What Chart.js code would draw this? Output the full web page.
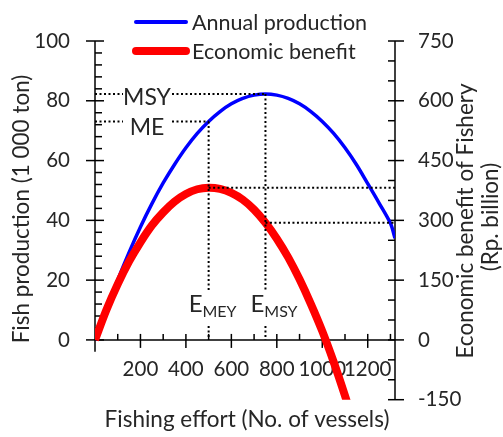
<!DOCTYPE html>
<html>
<head>
<meta charset="utf-8">
<script src="https://cdn.jsdelivr.net/npm/chart.js@4"></script>
<style>
  html, body { margin: 0; padding: 0; background: #fff; }
  #wrap { width: 503px; height: 437px; }
</style>
</head>
<body>
<div id="wrap"><canvas id="chart" width="503" height="437"></canvas></div>
<script>
// Fishing effort (No. of vessels)
const effort = [0, 50, 100, 150, 200, 250, 300, 350, 400, 450, 500, 550, 600, 650,
  700, 750, 800, 850, 900, 950, 1000, 1050, 1100, 1150, 1200, 1250, 1300, 1320];
// Annual production (1000 ton), left axis
const production = [0, 10.2, 20.1, 29.3, 37.8, 45.5, 52.5, 58.7, 64.3, 69.1, 73.1, 76.4, 79.0, 80.8,
  81.9, 82.3, 81.9, 80.8, 79.0, 76.4, 73.1, 69.1, 64.3, 58.7, 52.3, 45.8, 39.0, 34.0];
// Economic benefit (Rp. billion), right axis
const benefit = [0, 75, 140, 197, 245, 287, 320, 347, 366, 378, 382, 379, 369, 352,
  327, 294, 254, 207, 152, 90, 22, -55, -140, -230, null, null, null, null];

// reference points: [MEY, MSY]
const refEffort = [500, 750];
const refProduction = [73.1, 82.3];
const refBenefit = [382, 294];
const refNames = ['ME', 'MSY'];
const refSubs = ['MEY', 'MSY'];

const leftTicks = [0, 20, 40, 60, 80, 100];
const rightTicks = [-150, 0, 150, 300, 450, 600, 750];
const effortTicks = [200, 400, 600, 800, 1000, 1200];

const FONT = 'Lato, "DejaVu Sans", sans-serif';
const TEXT = '#262626';

function seg(ctx, x1, y1, x2, y2) {
  ctx.beginPath();
  ctx.moveTo(x1, y1);
  ctx.lineTo(x2, y2);
  ctx.stroke();
}

// axis lines and tick marks (major + minor)
const axesPlugin = {
  id: 'axesPlugin',
  beforeDatasetsDraw(chart) {
    const { ctx, chartArea: a, scales: { x, yL, yR } } = chart;
    const y0 = yR.getPixelForValue(0);
    ctx.save();
    ctx.strokeStyle = '#000';
    ctx.lineWidth = 1.5;
    // left
    seg(ctx, a.left, yL.getPixelForValue(100), a.left, yL.getPixelForValue(-4));
    for (let v = 0; v <= 100; v += 4) {
      const y = yL.getPixelForValue(v);
      if (leftTicks.includes(v)) seg(ctx, a.left - 9, y, a.left + 9, y);
      else seg(ctx, a.left, y, a.left + 7, y);
    }
    // right
    seg(ctx, a.right, a.top, a.right, a.bottom);
    for (let v = -150; v <= 750; v += 50) {
      const y = yR.getPixelForValue(v);
      if (rightTicks.includes(v)) seg(ctx, a.right - 7, y, a.right + 9, y);
      else seg(ctx, a.right - 7, y, a.right, y);
    }
    // bottom (at zero)
    seg(ctx, a.left, y0, a.right, y0);
    for (let v = 100; v <= 1300; v += 100) {
      const px = x.getPixelForValue(v);
      if (effortTicks.includes(v)) seg(ctx, px, y0 - 6, px, y0 + 8);
      else seg(ctx, px, y0 - 6, px, y0);
    }
    ctx.restore();
  }
};

// dotted reference lines, labels, titles and legend
const notesPlugin = {
  id: 'notesPlugin',
  afterDatasetsDraw(chart) {
    const { ctx, chartArea: a, scales: { x, yL, yR } } = chart;
    const y0 = yR.getPixelForValue(0);
    ctx.save();
    ctx.strokeStyle = '#000';
    ctx.lineWidth = 2;
    ctx.setLineDash([2, 2.5]);
    refEffort.forEach((e, i) => {
      const xe = x.getPixelForValue(e);
      const yp = yL.getPixelForValue(refProduction[i]);
      const yb = yR.getPixelForValue(refBenefit[i]);
      seg(ctx, a.left, yp, a.left + 28, yp);
      seg(ctx, a.left + 77, yp, xe, yp);
      seg(ctx, xe, yp, xe, y0 - 49);
      seg(ctx, xe, y0 - 14, xe, y0);
      seg(ctx, xe, yb, a.right, yb);
    });
    ctx.setLineDash([]);

    ctx.fillStyle = TEXT;
    ctx.textBaseline = 'alphabetic';
    const nameDrop = [14, 11];
    const subShift = [-20, -15];
    refEffort.forEach((e, i) => {
      const xe = x.getPixelForValue(e);
      const yp = yL.getPixelForValue(refProduction[i]);
      ctx.font = '23px ' + FONT;
      ctx.textAlign = 'center';
      ctx.fillText(refNames[i], a.left + 52, yp + nameDrop[i]);
      ctx.textAlign = 'left';
      ctx.font = '24px ' + FONT;
      const ex = xe + subShift[i];
      ctx.fillText('E', ex, y0 - 28);
      const w = ctx.measureText('E').width;
      ctx.font = '16px ' + FONT;
      ctx.fillText(refSubs[i], ex + w, y0 - 23);
    });

    // axis titles
    ctx.font = '22.5px ' + FONT;
    ctx.textAlign = 'center';
    ctx.fillText('Fishing effort (No. of vessels)', 247, 427);
    ctx.save();
    ctx.translate(29, 209);
    ctx.rotate(-Math.PI / 2);
    ctx.fillText('Fish production (1 000 ton)', 0, 0);
    ctx.restore();
    ctx.save();
    ctx.translate(473, 221);
    ctx.rotate(-Math.PI / 2);
    ctx.fillText('Economic benefit of Fishery', 0, 0);
    ctx.restore();
    ctx.save();
    ctx.translate(498, 217);
    ctx.rotate(-Math.PI / 2);
    ctx.fillText('(Rp. billion)', 0, 0);
    ctx.restore();

    // legend
    ctx.font = '21.5px ' + FONT;
    ctx.lineCap = 'round';
    ctx.textAlign = 'left';
    ctx.textBaseline = 'middle';
    const rows = [22, 51];
    chart.data.datasets.slice().reverse().forEach((ds, i) => {
      ctx.strokeStyle = ds.borderColor;
      ctx.lineWidth = ds.legendWidth;
      seg(ctx, 136, rows[i], 186, rows[i]);
      ctx.fillText(ds.label, 192, rows[i] + 1);
    });
    ctx.restore();
  }
};

const tickFont = { family: FONT, size: 20.5 };

new Chart(document.getElementById('chart'), {
  type: 'line',
  data: {
    datasets: [
      {
        label: 'Economic benefit',
        data: effort.map((e, i) => ({ x: e, y: benefit[i] })),
        yAxisID: 'yR',
        borderColor: '#ff0000',
        borderWidth: 8,
        legendWidth: 8,
        tension: 0.3,
        order: 0
      },
      {
        label: 'Annual production',
        data: effort.map((e, i) => ({ x: e, y: production[i] })),
        yAxisID: 'yL',
        borderColor: '#0000ff',
        borderWidth: 3.5,
        legendWidth: 4,
        tension: 0.3,
        order: 1
      }
    ]
  },
  options: {
    responsive: false,
    animation: false,
    layout: { padding: { top: 41, bottom: 36, left: 0, right: 0 } },
    elements: { point: { radius: 0 } },
    plugins: { legend: { display: false }, tooltip: { enabled: false } },
    scales: {
      x: {
        type: 'linear',
        min: 0,
        max: 1320,
        position: { yR: 0 },
        grid: { display: false, drawTicks: false },
        border: { display: false },
        ticks: {
          stepSize: 200,
          includeBounds: false,
          autoSkip: false,
          maxRotation: 0,
          padding: 17,
          color: TEXT,
          font: tickFont,
          callback: v => effortTicks.includes(v) ? String(v) : ''
        }
      },
      yL: {
        position: 'left',
        min: -20,
        max: 100,
        grid: { display: false, drawTicks: false },
        border: { display: false },
        ticks: {
          stepSize: 20,
          padding: 25,
          color: TEXT,
          font: tickFont,
          callback: v => leftTicks.includes(v) ? String(v) : ''
        },
        afterFit: s => { s.width = 95; }
      },
      yR: {
        position: 'right',
        min: -150,
        max: 750,
        grid: { display: false, drawTicks: false },
        border: { display: false },
        ticks: {
          stepSize: 150,
          padding: 23,
          color: TEXT,
          font: tickFont,
          callback: v => rightTicks.includes(v) ? String(v) : ''
        },
        afterFit: s => { s.width = 108; }
      }
    }
  },
  plugins: [axesPlugin, notesPlugin]
});
</script>
</body>
</html>
